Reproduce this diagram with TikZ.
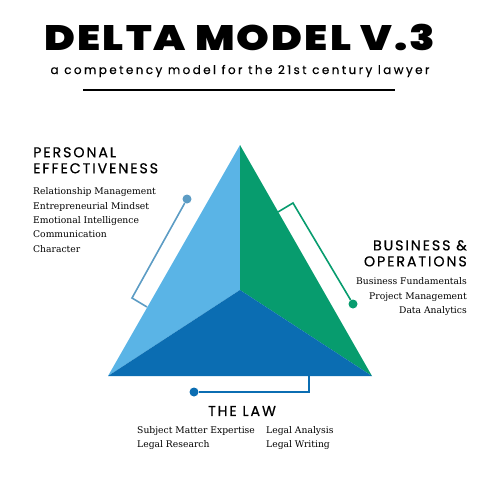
\documentclass[tikz,border=0pt]{standalone}
\usepackage{fontspec}
\setmainfont{DejaVu Serif}
\newfontfamily\headfont{Poppins}[LetterSpace=13, FakeBold=0.5]
\newfontfamily\subfont{Poppins}[LetterSpace=20, FakeBold=0.4]
\newfontfamily\titlefont{Poppins Black}[LetterSpace=6, FakeStretch=1.18]
\usetikzlibrary{positioning}

\definecolor{lightblue}{HTML}{5AB4E6}
\definecolor{deltagreen}{HTML}{079C6E}
\definecolor{darkblue}{HTML}{0B6DB2}
\definecolor{linkblue}{HTML}{5C9CC4}

\begin{document}
\begin{tikzpicture}[
x=1pt, y=-1pt,
heading/.style={font=\headfont\fontsize{14.3}{16}\selectfont, inner sep=0pt},
skills/.style={font=\fontsize{9.2}{14.4}\selectfont, inner sep=0pt},
link/.style={line width=1.6pt},
dot/.style={circle, fill, inner sep=0pt, minimum size=9pt}
]
\useasboundingbox (0,0) rectangle (480,480);

% title block
\node (title) at (240,37) {\titlefont\fontsize{35.3}{40}\selectfont DELTA MODEL V.3};
\node (subtitle) at (240,71) {\subfont\fontsize{12}{13}\selectfont a competency model for the 21st century lawyer};
\draw[line width=2pt] (83,90) -- (395,90);

% the delta
\coordinate (apex) at (240,145);
\coordinate (left) at (108,376);
\coordinate (right) at (372,376);
\coordinate (centre) at (240,290);
\fill[lightblue] (apex) -- (centre) -- (left) -- cycle;
\fill[deltagreen] (apex) -- (right) -- (centre) -- cycle;
\fill[darkblue] (left) -- (centre) -- (right) -- cycle;

% personal effectiveness
\node[heading, anchor=north west, align=left] (pehead) at (33,147) {PERSONAL\\EFFECTIVENESS};
\node[skills, align=left, below right=14pt and 0pt of pehead.south west] (pelist)
  {Relationship Management\\Entrepreneurial Mindset\\Emotional Intelligence\\Communication\\Character};
\node[dot, linkblue] (pedot) at (187,199) {};
\coordinate (pebend) at (132,298);
\coordinate (peedge) at (147,307);
\draw[link, linkblue] (peedge) -- (pebend) -- (pedot);

% business & operations
\node[heading, anchor=north east, align=right] (bohead) at (467,240) {BUSINESS \&\\OPERATIONS};
\node[skills, align=right, below left=11pt and 0pt of bohead.south east] (bolist)
  {Business Fundamentals\\Project Management\\Data Analytics};
\node[dot, deltagreen] (bodot) at (353,304) {};
\coordinate (bobend) at (293,203);
\coordinate (boedge) at (278,212);
\draw[link, deltagreen] (boedge) -- (bobend) -- (bodot);

% the law
\node[heading] (lawhead) at (242,411) {THE LAW};
\node[skills, anchor=north west, align=left] (lawleft) at (137,426) {Subject Matter Expertise\\Legal Research};
\node[skills, anchor=north west, align=left] (lawright) at (266,426) {Legal Analysis\\Legal Writing};
\node[dot, darkblue] (lawdot) at (194,392) {};
\coordinate (lawbend) at (309,392);
\coordinate (lawedge) at (309,376);
\draw[link, darkblue] (lawedge) -- (lawbend) -- (lawdot);
\end{tikzpicture}
\end{document}
